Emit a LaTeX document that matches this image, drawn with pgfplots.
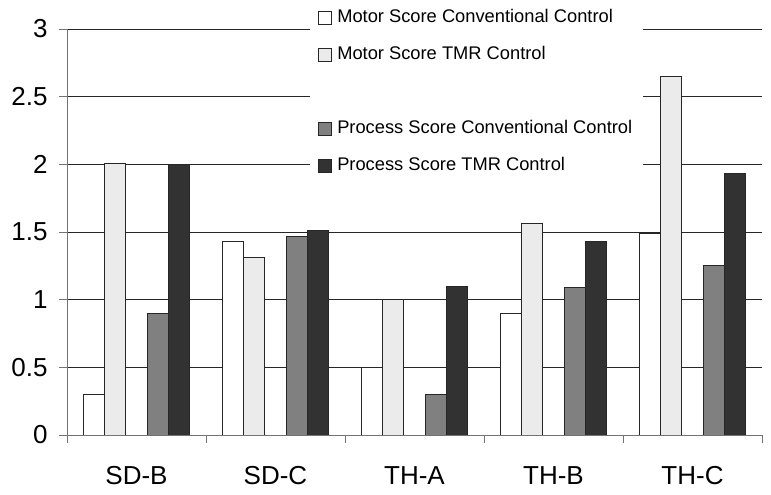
\documentclass[border=0pt]{standalone}
\usepackage{fontspec}
\setmainfont{Liberation Sans}
\usepackage{pgfplots}
\pgfplotsset{compat=1.18}
\definecolor{cLight}{HTML}{EBEBEB}
\definecolor{cMid}{HTML}{808080}
\definecolor{cDark}{HTML}{323232}
\begin{document}
\begin{tikzpicture}
\path[use as bounding box] (0pt,0pt) rectangle (771pt,495pt);
\begin{axis}[
  at={(67pt,60pt)}, anchor=south west,
  width=695pt, height=406pt, scale only axis,
  xmin=-0.5, xmax=4.5, ymin=0, ymax=3,
  ytick={0,0.5,1,1.5,2,2.5,3},
  xtick={0,1,2,3,4},
  xticklabels={SD-B,SD-C,TH-A,TH-B,TH-C},
  minor xtick={-0.5,0.5,1.5,2.5,3.5,4.5},
  major x tick style={draw=none},
  minor tick length=8pt,
  major tick length=8pt,
  tick align=outside,
  tick style={black!55, line width=0.8pt},
  axis x line*=bottom, axis y line*=left,
  axis line style={black!55, line width=0.8pt, -},
  ymajorgrids,
  major grid style={black!85, line width=0.8pt},
  /pgf/number format/assume math mode=true,
  ticklabel style={font=\fontsize{26}{26}\selectfont},
  yticklabel style={xshift=-8pt},
  xticklabel style={yshift=-20pt},
  ybar, bar width=21.25pt,
  every axis plot/.append style={draw=black!85, line width=0.8pt},
  legend image code/.code={\draw[#1, line width=0.6pt] (0pt,-6.5pt) rectangle (13pt,6.5pt);},
  legend cell align=left,
  legend style={
    at={(axis description cs:0.3496,1.0714)}, anchor=north west,
    draw=none, fill=white,
    font=\fontsize{18.3}{18.3}\selectfont,
    inner xsep=8pt, inner ysep=7pt,
    row sep=16pt,
    nodes={text height=13pt, text depth=4pt, inner xsep=2.5pt},
    /tikz/every odd column/.append style={column sep=3pt},
  },
]
\addplot[fill=white, bar shift=-42.5pt] coordinates {(0,0.30) (1,1.43) (2,0.50) (3,0.90) (4,1.49)};
\addlegendentry{Motor Score Conventional Control}
\addplot[fill=cLight, bar shift=-21.25pt] coordinates {(0,2.01) (1,1.31) (2,1.00) (3,1.56) (4,2.65)};
\addlegendentry{Motor Score TMR Control}
\addlegendimage{empty legend}
\addlegendentry{}
\addplot[fill=cMid, bar shift=21.25pt] coordinates {(0,0.90) (1,1.47) (2,0.30) (3,1.09) (4,1.25)};
\addlegendentry{Process Score Conventional Control}
\addplot[fill=cDark, bar shift=42.5pt] coordinates {(0,2.00) (1,1.51) (2,1.10) (3,1.43) (4,1.93)};
\addlegendentry{Process Score TMR Control}
\end{axis}
\end{tikzpicture}
\end{document}
